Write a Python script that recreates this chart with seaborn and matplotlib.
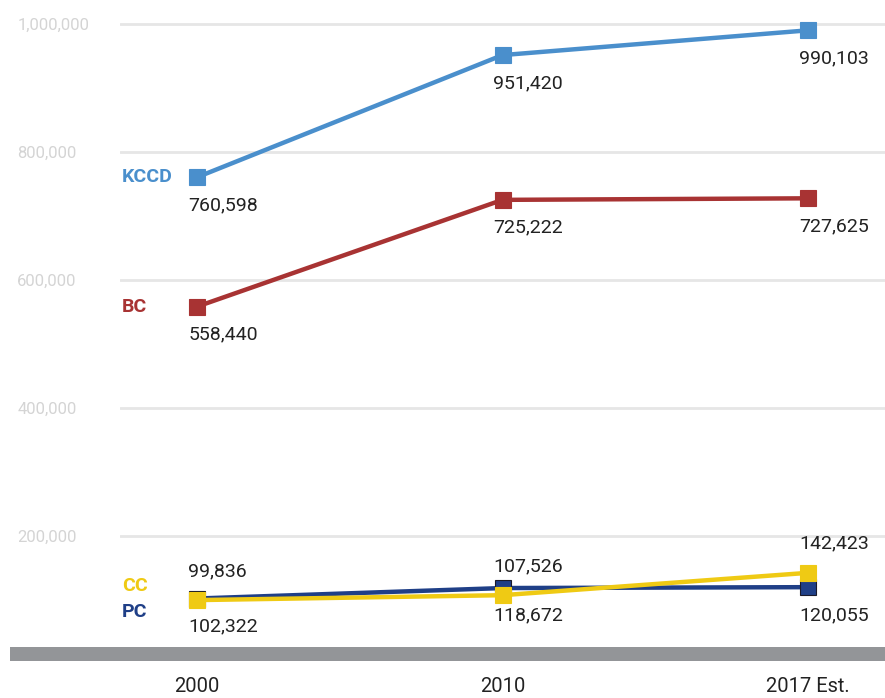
import matplotlib
matplotlib.use("Agg")
import matplotlib.pyplot as plt
from matplotlib.patches import Rectangle
import seaborn as sns
import pandas as pd

years = ["2000", "2010", "2017 Est."]
kccd = [760598, 951420, 990103]
bc = [558440, 725222, 727625]
pc = [102322, 118672, 120055]
cc = [99836, 107526, 142423]
yticks = [200000, 400000, 600000, 800000, 1000000]

sns.set_theme(style="white")
plt.rcParams["font.family"] = ["Roboto", "DejaVu Sans"]

W, H = 885, 698
fig = plt.figure(figsize=(W / 100, H / 100), dpi=100)
ymax = 1020000
ax_bottom_px = 664
top_px = 24 - (ymax - 1000000) / 1e6 * 640
ax = fig.add_axes([120 / W, (H - ax_bottom_px) / H, 765 / W, (ax_bottom_px - top_px) / H])

x = list(range(len(years)))
series = [
    ("KCCD", kccd, "#4a8fcc", "#4a8fcc", "below"),
    ("BC", bc, "#a83333", "#a83333", "below"),
    ("PC", pc, "#1f3f87", "#1a1a2a", "below"),
    ("CC", cc, "#efca14", "#efca14", "above"),
]

for name, vals, col, edge, pos in series:
    df = pd.DataFrame({"x": x, "v": vals})
    sns.lineplot(data=df, x="x", y="v", ax=ax, color=col, linewidth=3.2,
                 marker="s", markersize=11, markeredgecolor=edge,
                 markeredgewidth=0.8, zorder=3)

# data labels
for name, vals, col, edge, pos in series:
    for xi, v in zip(x, vals):
        dy = -20 if pos == "below" else 21
        ax.annotate(f"{v:,}", (xi, v), xytext=(-6.5, dy), textcoords="offset points",
                    ha="left", va="center", fontsize=14, color="#222222", zorder=5)

# series name labels
name_off = {"KCCD": 0, "BC": 0, "CC": 10, "PC": -10}
for name, vals, col, edge, pos in series:
    ax.annotate(name, (-0.246, vals[0]), xytext=(0, name_off[name]), textcoords="offset points",
                ha="left", va="center", fontsize=14, fontweight="bold", color=col, zorder=5)

ax.set_xlim(-0.2525, 2.2525)
ax.set_ylim(0, ymax)
ax.set_yticks(yticks)
ax.set_yticklabels([f"{t:,}" for t in yticks])
ax.set_xticks(x)
ax.set_xticklabels(years)
ax.set_xlabel("")
ax.set_ylabel("")
ax.grid(axis="y", color="#e6e6e6", linewidth=2)
ax.grid(axis="x", visible=False)
for s in ax.spines.values():
    s.set_visible(False)
ax.tick_params(axis="y", length=0, pad=74, labelsize=12, labelcolor="#d4d4d4")
for lbl in ax.get_yticklabels():
    lbl.set_horizontalalignment("left")
ax.tick_params(axis="x", length=0, pad=9, labelsize=14.5, labelcolor="#222222")

fig.add_artist(Rectangle((10 / W, 37 / H), 1 - 10 / W, 14 / H, transform=fig.transFigure,
                         facecolor="#939598", edgecolor="none", zorder=10))

fig.savefig("out.png", dpi=100, facecolor="white")
